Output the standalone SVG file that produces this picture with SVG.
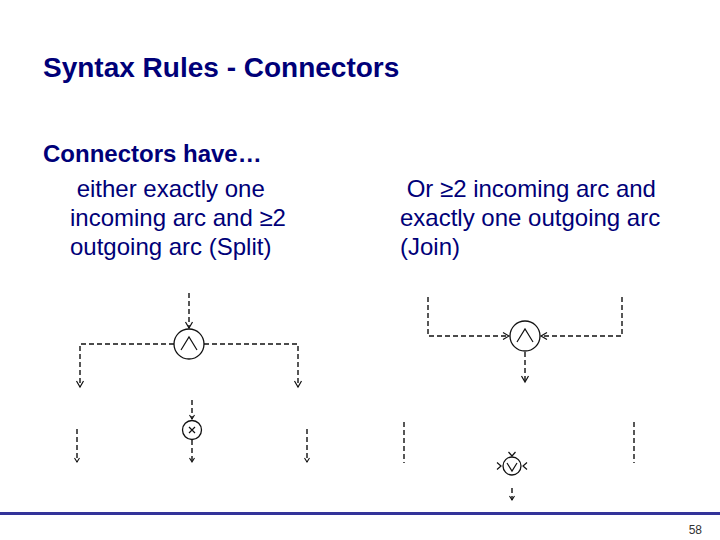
<svg xmlns="http://www.w3.org/2000/svg" width="720" height="540" viewBox="0 0 720 540">
<defs>
<style>
.t{font-family:"Liberation Sans",Arial,sans-serif;fill:#000078}
.title{font-size:28px;font-weight:bold}
.h{font-size:24px;font-weight:bold}
.b{font-size:24px}
.dash{fill:none;stroke:#111;stroke-width:1.4;stroke-dasharray:5 3}
.c{fill:#fff;stroke:#111;stroke-width:1.3}
.sym{fill:none;stroke:#111;stroke-width:1.2}
.ah{fill:none;stroke:#111;stroke-width:1.2}
</style>
<marker id="arr" markerUnits="userSpaceOnUse" markerWidth="10" markerHeight="10" refX="0" refY="0" orient="auto" overflow="visible">
<path d="M-6,-3.5 L0,0 L-6,3.5" fill="none" stroke="#111" stroke-width="1.2"/>
</marker>
<marker id="arrs" markerUnits="userSpaceOnUse" markerWidth="8" markerHeight="8" refX="0" refY="0" orient="auto" overflow="visible">
<path d="M-4,-2.5 L0,0 L-4,2.5" fill="none" stroke="#111" stroke-width="1.1"/>
</marker>
</defs>
<rect width="720" height="540" fill="#fff"/>
<g id="texts">
<text class="t title" x="43" y="77">Syntax Rules - Connectors</text>
<text class="t h" x="43" y="162">Connectors have…</text>
<text class="t b" x="70" y="197" xml:space="preserve"> either exactly one</text>
<text class="t b" x="70" y="226">incoming arc and ≥2</text>
<text class="t b" x="70" y="255">outgoing arc (Split)</text>
<text class="t b" x="400" y="197" xml:space="preserve"> Or ≥2 incoming arc and</text>
<text class="t b" x="400" y="226">exactly one outgoing arc</text>
<text class="t b" x="400" y="255">(Join)</text>
</g>
<g id="connectors">
<path class="dash" d="M189,293 V328" marker-end="url(#arr)"/>
<path class="dash" d="M174,344 H80 V387" marker-end="url(#arr)"/>
<path class="dash" d="M204,344 H298 V387" marker-end="url(#arr)"/>
<path class="dash" d="M192,400 V419" marker-end="url(#arrs)"/>
<path class="dash" d="M192,440 V462" marker-end="url(#arrs)"/>
<path class="dash" d="M77,429 V462" marker-end="url(#arrs)"/>
<path class="dash" d="M307,429 V462" marker-end="url(#arrs)"/>
<path class="dash" d="M428,297 V336 H509" marker-end="url(#arr)"/>
<path class="dash" d="M622,297 V336 H541" marker-end="url(#arr)"/>
<path class="dash" d="M525,352 V382" marker-end="url(#arr)"/>
<path class="dash" d="M404,422 V463"/>
<path class="dash" d="M634,422 V463"/>
<path class="dash" d="M512,488 V500" marker-end="url(#arrs)"/>
</g>
<g id="split-and">
<circle class="c" cx="189" cy="344" r="15"/>
<path class="sym" d="M181,350 L189,337 L197,350"/>
</g>
<g id="split-xor">
<circle class="c" cx="192" cy="430" r="9.5"/>
<path class="sym" d="M189,427 L195,433 M195,427 L189,433"/>
</g>
<g id="join-and">
<circle class="c" cx="525" cy="336" r="15"/>
<path class="sym" d="M517,342 L525,329 L533,342"/>
</g>
<g id="join-or">
<circle class="c" cx="512" cy="466" r="9"/>
<path class="sym" d="M507,463 L512,471 L517,463"/>
<path class="ah" d="M508.5,452 L512,456 L515.5,452"/>
<path class="ah" d="M497,462.5 L501,466 L497,469.5"/>
<path class="ah" d="M527,462.5 L523,466 L527,469.5"/>
</g>
<g id="footer">
<rect x="0" y="512" width="720" height="3" fill="#333399"/>
<text x="702" y="534" text-anchor="end" font-family="Liberation Sans,Arial,sans-serif" font-size="12" fill="#333">58</text>
</g>
</svg>
